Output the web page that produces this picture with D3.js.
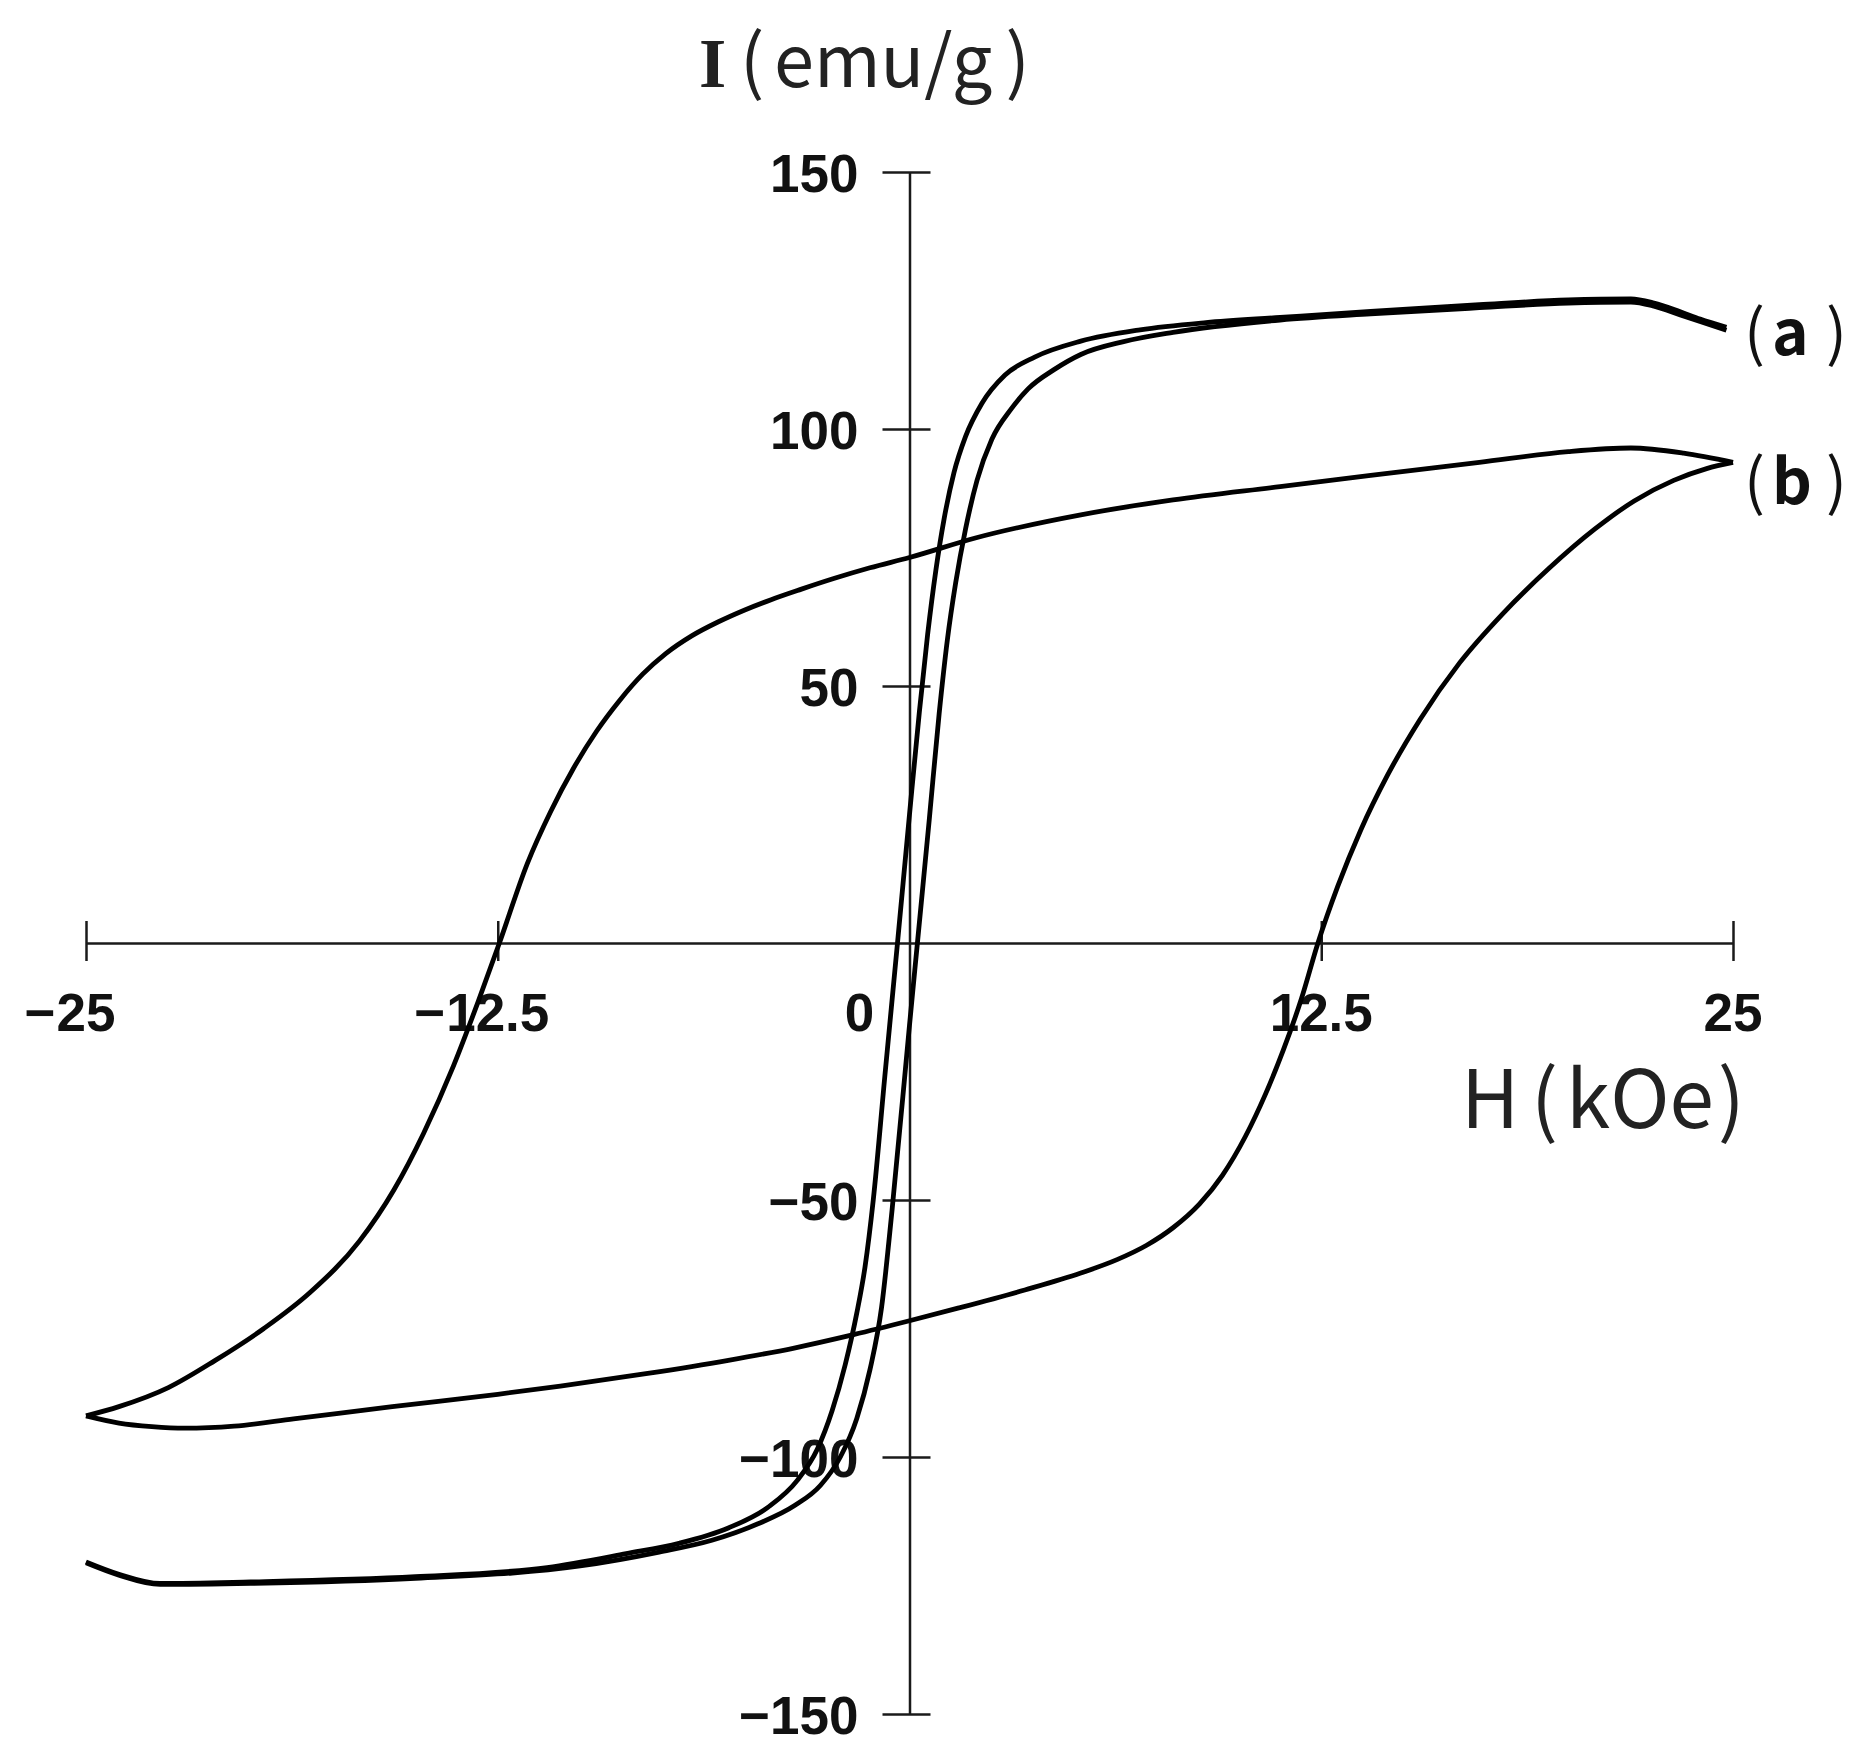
<!DOCTYPE html>
<html>
<head>
<meta charset="utf-8">
<script src="https://cdn.jsdelivr.net/npm/d3@7"></script>
<style>
  html, body { margin: 0; padding: 0; background: #fff; }
  svg { display: block; }
</style>
</head>
<body>
<svg id="chart" width="1865" height="1759"></svg>
<script>
// ---- data (H in kOe, I in emu/g) ----
const xTicks = [-25, -12.5, 12.5, 25];
const xTickLabels = ["25", "12.5", "12.5", "25"];
const yTicks = [150, 100, 50, -50, -100, -150];
const yTickLabels = ["150", "100", "50", "\u221250", "\u2212100", "\u2212150"];

// curve (a): descending branch (+25 -> -25)
const aDescH = [24.8, 24, 23.4, 22.6, 21.9, 20, 17.3, 14, 11.25, 9, 7, 5.2, 3.8, 2.9, 2.2, 1.7, 1.35, 1.05, 0.8, 0.55, 0.3, 0, -0.35, -0.75, -1.1, -1.35, -1.6, -1.95, -2.35, -2.8, -3.4, -4.3, -5.5, -7, -8.6, -11, -15, -20, -22.75, -24, -25];
const aDescI = [119.8, 121.4, 122.8, 124.5, 125.3, 125.1, 124.2, 122.9, 121.7, 120.7, 119.3, 117.1, 114, 110.5, 105, 98.5, 91.5, 82.5, 72.5, 60, 45, 25, 1, -26, -50, -63, -72, -82, -91, -98.5, -104.5, -109.8, -113.8, -116.8, -118.8, -121.5, -123.3, -124.3, -124.6, -122.8, -120.4];
// curve (a): ascending branch (-25 -> +25)
const aAscH = [-25, -24, -22.75, -20, -15, -10, -7.6, -6, -4.6, -3.5, -2.7, -2.1, -1.6, -1.2, -0.85, -0.53, 0, 0.24, 0.6, 0.9, 1.15, 1.4, 1.7, 2.05, 2.5, 3.1, 3.6, 4.4, 5.2, 6.5, 8, 11.25, 14, 17.3, 20, 21.9, 22.6, 23.4, 24, 24.8];
const aAscI = [-120.6, -123, -124.8, -124.6, -123.6, -121.2, -118.5, -116.2, -113, -109.5, -105.5, -100, -92.5, -83, -71, -52, -16, 0, 24, 44.6, 59, 70, 80.5, 90, 98, 104, 107.8, 111.6, 114.5, 117, 118.8, 121.2, 122.4, 123.6, 124.5, 124.7, 123.9, 122.2, 120.9, 119.2];

// curve (b): descending branch (+25 -> -25)
const bDescH = [25, 23.5, 21.9, 20, 17.3, 14, 11.25, 8, 5.2, 2, 0, -1.2, -2.3, -3.3, -4.2, -5.0, -5.8, -6.6, -7.4, -8.1, -8.8, -9.5, -10.2, -10.9, -11.6, -12.45, -13.1, -13.85, -14.75, -15.65, -16.7, -18.2, -19.6, -21.1, -22.5, -24, -25];
const bDescI = [93.5, 95.3, 96.3, 95.6, 93.5, 91, 88.8, 86.2, 83.3, 78.8, 75, 73, 70.9, 68.8, 66.8, 64.8, 62.5, 59.8, 56.3, 52.3, 47.2, 41.2, 34, 25.5, 15.5, 0, -11.5, -24, -37, -48, -58, -68, -75, -81.3, -86.5, -90.2, -92];
// curve (b): ascending branch (-25 -> +25)
const bAscH = [-25, -24, -23, -22, -20.5, -18.7, -15.7, -12.5, -10.6, -8, -5.5, -3.5, -1.7, 0, 1.5, 3.5, 5.2, 6.3, 7.2, 8.0, 8.8, 9.5, 10.2, 10.8, 11.35, 11.9, 12.4, 13.0, 13.7, 14.5, 15.5, 16.7, 18, 19.4, 20.8, 22, 23.2, 24.2, 25];
const bAscI = [-92, -93.4, -94.1, -94.4, -94, -92.6, -90.2, -87.8, -86.2, -83.8, -81.2, -78.8, -76.2, -73.5, -71, -67.5, -64.2, -61.6, -58.8, -55.4, -50.8, -45.2, -37.6, -29.5, -20.8, -10.8, 0, 11, 22, 32.5, 43.5, 54.5, 64, 72.8, 80.5, 86, 90, 92.3, 93.5];

const seriesLabels = ["a", "b"];

// ---- layout ----
const svg = d3.select("#chart");
const x = d3.scaleLinear().domain([-25, 25]).range([86, 1733]);
const y = d3.scaleLinear().domain([-150, 150]).range([1714, 172]);
const axisColor = "#1a1a1a";
const labelFont = "'Liberation Sans', Arial, sans-serif";
const jpFont = "'Noto Sans CJK JP', 'Noto Sans', sans-serif";

// y axis
const yAxis = d3.axisLeft(y).tickValues(yTicks).tickSizeInner(27).tickSizeOuter(0).tickPadding(24)
  .tickFormat((d, i) => yTickLabels[i]);
const gy = svg.append("g").attr("transform", `translate(${x(0)},0)`).call(yAxis);
gy.select(".domain").attr("stroke", axisColor).attr("stroke-width", 2.5);
gy.selectAll(".tick line").attr("x1", 21).attr("stroke", axisColor).attr("stroke-width", 2.5);
gy.selectAll(".tick text")
  .attr("font-family", labelFont)
  .attr("font-weight", "bold").attr("font-size", 53).attr("fill", "#111")
  .attr("dy", "0.36em");

// x axis
const xAxis = d3.axisBottom(x).tickValues(xTicks).tickSizeInner(18).tickSizeOuter(0).tickFormat("");
const gx = svg.append("g").attr("transform", `translate(0,${y(0)})`).call(xAxis);
gx.select(".domain").attr("stroke", axisColor).attr("stroke-width", 2.5);
gx.selectAll(".tick line").attr("y1", -22).attr("stroke", axisColor).attr("stroke-width", 2.5);

xTicks.forEach((v, i) => {
  const t = svg.append("text").attr("x", x(v)).attr("y", y(0) + 88)
    .attr("text-anchor", "middle").attr("font-family", labelFont)
    .attr("font-weight", "bold").attr("font-size", 53).attr("fill", "#111")
    .text(xTickLabels[i]);
  if (v < 0) {
    const w = t.node().getComputedTextLength();
    svg.append("text").attr("x", x(v) - w / 2 - 1).attr("y", y(0) + 88)
      .attr("text-anchor", "end").attr("font-family", labelFont)
      .attr("font-weight", "bold").attr("font-size", 53).attr("fill", "#111")
      .text("\u2212");
  }
});
svg.append("text").attr("x", x(0) - 50).attr("y", y(0) + 88)
  .attr("text-anchor", "middle").attr("font-family", labelFont)
  .attr("font-weight", "bold").attr("font-size", 53).attr("fill", "#111").text("0");

// axis titles
const yt = svg.append("text").attr("y", 87).attr("fill", "#222");
yt.append("tspan").attr("x", 699).attr("font-family", "'Liberation Serif', 'DejaVu Serif', serif")
  .attr("font-weight", "bold").attr("font-size", 70).text("I");
yt.append("tspan").attr("x", 740).attr("font-family", jpFont).attr("font-size", 72).text("(");
yt.append("tspan").attr("x", 774).attr("font-family", jpFont).attr("font-size", 72).text("emu/g");
yt.append("tspan").attr("dx", 12).attr("font-family", jpFont).attr("font-size", 72).text(")");

const xt = svg.append("text").attr("y", 1128).attr("fill", "#222");
xt.append("tspan").attr("x", 1461).attr("font-family", jpFont).attr("font-size", 80).text("H");
xt.append("tspan").attr("x", 1531).attr("font-family", jpFont).attr("font-size", 80).text("(");
xt.append("tspan").attr("x", 1566).attr("font-family", jpFont).attr("font-size", 80).text("kOe");
xt.append("tspan").attr("dx", 4).attr("font-family", jpFont).attr("font-size", 80).text(")");

// curves (each branch drawn with H increasing)
const line = d3.line().x(d => x(d[0])).y(d => y(d[1])).curve(d3.curveMonotoneX);
const zip = (h, v) => h.map((d, i) => [d, v[i]]).sort((p, q) => p[0] - q[0]);
const branches = [
  { pts: zip(aDescH, aDescI), w: 4.8 },
  { pts: zip(aAscH, aAscI), w: 4.8 },
  { pts: zip(bDescH, bDescI), w: 4.8 },
  { pts: zip(bAscH, bAscI), w: 4.8 }
];
svg.append("g").selectAll("path").data(branches).join("path")
  .attr("d", d => line(d.pts)).attr("fill", "none").attr("stroke", "#000")
  .attr("stroke-width", d => d.w).attr("stroke-linejoin", "round").attr("stroke-linecap", "butt");

// series labels
const labelI = [aDescI[0], bDescI[0]];
const labelDy = [28, 42];
seriesLabels.forEach((s, i) => {
  const t = svg.append("text").attr("y", y(labelI[i]) + labelDy[i]).attr("fill", "#111")
    .attr("font-family", jpFont).attr("font-size", 62);
  t.append("tspan").attr("x", 1744).text("(");
  t.append("tspan").attr("x", 1772).attr("font-weight", "bold").text(s);
  t.append("tspan").attr("x", 1826).text(")");
});
</script>
</body>
</html>
